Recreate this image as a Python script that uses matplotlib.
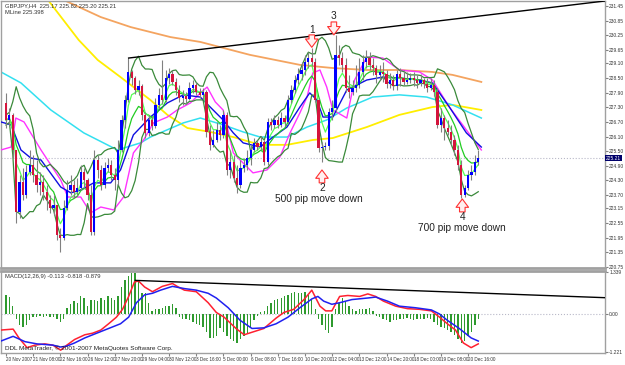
import matplotlib
matplotlib.use("Agg")
import matplotlib.pyplot as plt
import numpy as np
import pandas as pd

plt.rcParams['font.family'] = ['Liberation Sans', 'DejaVu Sans']
narrow = ['Liberation Sans Narrow', 'Liberation Sans', 'DejaVu Sans']

# ---- price data (H4 bars, GBPJPY) ----
first_open = 227.48
close = [226.78, 226.99, 225.55, 223.01, 224.24, 223.71, 224.65, 224.94, 224.53, 224.12,
         224.24, 223.83, 223.50, 223.17, 223.30, 222.07, 221.94, 223.17, 223.91, 224.12,
         223.83, 223.99, 224.65, 224.32, 223.71, 222.19, 225.14, 224.73, 224.12, 224.81,
         224.94, 224.53, 224.32, 225.55, 226.78, 227.60, 228.75, 228.50, 228.01, 228.17,
         226.99, 226.25, 226.78, 226.53, 227.40, 227.81, 227.60, 228.50, 228.67, 228.34,
         228.01, 227.68, 227.76, 227.64, 228.09, 228.22, 227.93, 227.81, 227.93, 226.29,
         225.76, 225.96, 226.37, 226.17, 226.99, 224.73, 225.06, 224.40, 224.12, 224.81,
         224.94, 225.22, 225.55, 225.84, 225.67, 225.88, 225.06, 226.70, 226.58, 226.78,
         226.58, 226.86, 226.70, 227.60, 228.01, 228.42, 228.67, 228.83, 229.16, 229.32,
         229.16, 227.60, 225.63, 225.67, 225.71, 227.11, 227.27, 229.45, 229.32, 229.04,
         228.09, 227.93, 228.09, 228.22, 228.75, 229.16, 229.32, 229.04, 228.91, 228.63,
         228.75, 228.67, 228.26, 228.42, 228.17, 228.67, 228.50, 228.34, 228.42, 228.50,
         228.42, 228.30, 228.42, 228.26, 228.09, 228.22, 227.93, 226.58, 226.86, 226.45,
         226.29, 225.96, 225.55, 224.94, 223.71, 223.99, 224.53, 224.65, 225.06, 225.21]
high = [227.89, 227.27, 227.07, 225.55, 224.53, 224.81, 224.94, 225.55, 225.35, 225.14,
        224.65, 224.53, 224.12, 223.71, 223.71, 223.30, 222.35, 223.50, 224.32, 224.53,
        224.32, 224.40, 224.94, 224.81, 224.40, 224.12, 225.55, 225.35, 224.94, 225.06,
        225.22, 225.14, 224.81, 225.96, 226.99, 227.81, 229.32, 228.83, 228.58, 228.42,
        228.26, 227.11, 226.99, 226.94, 227.68, 228.09, 229.24, 228.83, 228.91, 228.83,
        228.50, 228.22, 228.01, 227.93, 228.34, 228.42, 228.34, 228.09, 228.09, 228.01,
        226.58, 226.37, 226.70, 226.58, 227.19, 227.11, 225.55, 225.35, 224.94, 225.14,
        225.22, 225.55, 225.76, 226.04, 225.96, 226.12, 225.96, 226.86, 226.86, 226.99,
        226.94, 227.11, 226.99, 227.81, 228.22, 228.63, 228.91, 229.16, 229.45, 229.57,
        229.73, 229.32, 227.68, 225.88, 225.88, 227.27, 227.60, 230.27, 229.86, 229.57,
        229.32, 228.63, 228.42, 229.04, 229.32, 229.45, 229.65, 229.57, 229.32, 229.04,
        229.04, 229.16, 228.83, 228.71, 228.63, 228.83, 228.91, 228.83, 228.75, 228.71,
        228.75, 228.63, 228.67, 228.50, 228.50, 228.50, 228.42, 228.09, 227.27, 226.99,
        226.78, 226.58, 226.17, 225.76, 225.14, 224.12, 224.73, 224.94, 225.35, 225.55]
low = [226.45, 226.58, 225.22, 222.56, 222.76, 223.50, 223.58, 224.53, 224.24, 223.83,
       223.71, 223.50, 223.09, 222.97, 222.89, 221.86, 221.37, 221.86, 223.09, 223.71,
       223.58, 223.66, 223.91, 223.99, 223.50, 222.07, 222.07, 224.40, 223.91, 223.99,
       224.65, 224.32, 223.91, 224.12, 225.47, 226.45, 227.52, 228.22, 227.85, 227.81,
       226.78, 226.04, 226.12, 226.37, 226.45, 227.27, 227.44, 227.52, 228.26, 228.22,
       227.81, 227.52, 227.40, 227.44, 227.60, 227.89, 227.81, 227.68, 227.64, 226.08,
       225.55, 225.67, 225.88, 225.96, 226.04, 224.53, 224.40, 224.24, 223.79, 223.99,
       224.65, 224.73, 224.94, 225.47, 225.55, 225.55, 224.94, 224.94, 226.37, 226.45,
       226.45, 226.49, 226.53, 226.62, 227.48, 227.89, 228.26, 228.42, 228.63, 228.91,
       228.99, 227.52, 225.47, 225.06, 225.55, 225.55, 226.78, 227.11, 229.04, 228.75,
       227.93, 227.68, 227.81, 227.93, 228.09, 228.42, 228.91, 228.83, 228.63, 228.30,
       228.42, 228.34, 228.09, 228.09, 228.01, 228.01, 228.17, 228.22, 228.26, 228.30,
       228.17, 228.09, 228.17, 228.09, 227.93, 228.01, 227.76, 226.45, 226.29, 225.96,
       226.17, 225.76, 225.35, 224.73, 223.58, 223.62, 223.91, 224.32, 224.53, 224.94]

# slow moving averages (bar index, price)
yellow_x = [11.7, 21.4, 27.0, 33.7, 42.5, 47.5, 53.4, 60.1, 66.9, 74.8, 82.7, 90.3, 96.2, 106.2, 115.8, 125.5, 131.4, 139.9]
yellow_y = [231.82, 230.06, 229.24, 228.54, 227.60, 226.99, 226.45, 226.29, 226.08, 225.76, 225.76, 225.96, 226.04, 226.49, 226.99, 227.31, 227.40, 227.19]
orange_x = [14.7, 17.0, 27.9, 36.7, 48.4, 57.2, 71.8, 86.5, 96.2, 106.2, 115.8, 125.5, 131.4, 139.9]
orange_y = [231.90, 231.70, 231.00, 230.59, 230.18, 229.98, 229.45, 229.04, 228.91, 228.83, 228.83, 228.75, 228.63, 228.34]
cyan_x = [-1.5, 4.4, 13.2, 22.9, 32.8, 39.6, 42.5, 52.2, 57.2, 63.9, 69.8, 74.8, 82.7, 88.6, 94.4, 100.3, 107.9, 115.8, 123.8, 131.4, 139.9]
cyan_y = [228.75, 228.30, 227.19, 226.25, 225.55, 225.84, 226.08, 226.66, 226.86, 226.58, 226.29, 226.08, 226.08, 226.49, 226.78, 227.27, 227.72, 227.81, 227.72, 227.40, 226.86]
magenta_x = [-1.5, 1.5, 2.9, 5.3, 10.3, 16.1, 18.2, 22.0, 24.9, 27.9, 31.7, 34.6, 37.5, 40.5, 43.4, 47.5, 50.4, 54.3,
             57.2, 59.2, 61.6, 63.9, 65.1, 66.9, 68.9, 72.7, 76.8, 80.6, 83.6, 86.5, 88.6, 90.3, 92.4, 94.4, 96.2,
             100.3, 102.6, 106.2, 110.9, 115.8, 121.7, 125.5, 130.5, 135.5, 139.9]
magenta_y = [225.55, 225.67, 226.86, 226.70, 225.55, 224.32, 223.62, 223.62, 222.97, 223.21, 223.09, 223.62, 225.43,
             225.96, 226.66, 226.90, 227.19, 227.48, 227.89, 228.13, 227.52, 227.19, 226.49, 225.43, 225.14, 224.61,
             224.73, 225.26, 226.25, 227.07, 227.72, 228.71, 228.83, 228.13, 227.19, 226.86, 228.42, 229.36, 229.32,
             228.83, 228.75, 228.42, 227.31, 226.37, 225.55]
blue_x = [-1.5, 1.5, 4.4, 7.3, 10.3, 16.1, 19.1, 22.0, 25.8, 30.8, 33.7, 35.8, 37.5, 42.5, 47.5, 52.2, 57.2, 60.1, 63.9,
          66.9, 69.8, 74.8, 78.6, 82.7, 86.5, 89.4, 91.5, 93.3, 96.2, 100.3, 106.2, 110.9, 115.8, 121.7, 125.5, 130.5,
          135.5, 139.9]
blue_y = [226.70, 226.58, 225.55, 225.22, 225.14, 224.03, 223.79, 223.91, 224.20, 224.20, 224.73, 225.55, 226.17, 226.90,
          227.48, 227.81, 227.72, 227.31, 226.78, 226.25, 225.84, 225.67, 226.08, 226.49, 227.31, 227.89, 227.60, 226.90,
          226.90, 228.01, 228.42, 228.54, 228.50, 228.42, 228.30, 227.31, 226.25, 225.67]

# user trendlines (bar index, value)
trend_x = [36.1, 176.3]
trend_y = [229.32, 231.66]
macd_trend_x = [38.1, 176.3]
macd_trend_y = [1.07, 0.52]

# ---- MACD panel ----
macd_hist = [0.61, 0.55, 0.25, -0.15, -0.36, -0.41, -0.36, -0.20, -0.10, -0.08,
             -0.05, -0.08, -0.05, -0.10, -0.08, -0.15, -0.25, -0.15, 0.20, 0.31,
             0.41, 0.36, 0.56, 0.51, 0.25, 0.46, 0.46, 0.41, 0.51, 0.46,
             0.56, 0.51, 0.46, 0.56, 0.86, 1.07, 1.22, 1.29, 1.29, 1.07,
             0.66, 0.66, 0.36, 0.10, 0.15, 0.15, 0.20, 0.25, 0.25, 0.31,
             0.20, -0.10, -0.15, -0.15, -0.20, -0.25, -0.31, -0.36, -0.41, -0.56,
             -0.76, -0.76, -0.71, -0.46, -0.56, -0.71, -0.81, -0.86, -0.92, -0.81,
             -0.71, -0.61, -0.41, -0.20, -0.05, 0.05, 0.10, 0.25, 0.36, 0.46,
             0.48, 0.51, 0.56, 0.61, 0.66, 0.69, 0.68, 0.66, 0.71, 0.61,
             0.46, 0.15, -0.15, -0.36, -0.51, -0.61, -0.41, 0.15, 0.36, 0.51,
             0.41, 0.25, 0.15, 0.10, 0.15, 0.15, 0.17, 0.20, 0.10, -0.05,
             -0.10, -0.15, -0.20, -0.25, -0.20, -0.20, -0.15, -0.15, -0.13, -0.15,
             -0.20, -0.15, -0.17, -0.15, -0.13, -0.15, -0.25, -0.36, -0.41, -0.46,
             -0.51, -0.56, -0.66, -0.81, -0.92, -0.86, -0.71, -0.56, -0.36, -0.15]
macd_red_x = [-1.5, 2.1, 3.8, 6.2, 8.5, 11.4, 13.8, 16.1, 17.9, 20.2, 23.2, 25.5, 27.9, 30.2, 32.5, 34.3, 36.1, 37.8,
              39.0, 40.8, 43.1, 46.0, 49.0, 50.7, 52.5, 56.0, 59.5, 61.9, 64.2, 67.7, 70.1, 72.4, 75.9, 79.5, 81.8,
              84.7, 87.7, 90.0, 92.4, 94.1, 95.9, 98.2, 100.6, 104.1, 106.5, 108.8, 111.1, 114.7, 118.2, 121.7,
              125.2, 127.6, 129.9, 132.3, 134.6, 136.9, 139.0]
macd_red_y = [-0.51, -0.48, -0.76, -1.07, -0.99, -0.95, -0.99, -1.15, -0.99, -0.81, -0.66, -0.61, -0.51, -0.31,
              -0.10, 0.15, 0.56, 1.02, 1.05, 0.86, 0.71, 0.88, 0.97, 0.86, 0.76, 0.71, 0.36, 0.05, -0.10, -0.46,
              -0.66, -0.58, -0.46, -0.13, 0.05, 0.15, 0.46, 0.76, 0.25, 0.10, 0.10, 0.56, 0.59, 0.56, 0.64, 0.56,
              0.41, 0.25, 0.17, 0.15, 0.10, -0.10, -0.31, -0.51, -0.92, -1.07, -0.95]
macd_blue_x = [-1.5, 2.1, 5.6, 9.1, 13.8, 16.1, 17.9, 20.2, 23.2, 26.7, 30.2, 33.7, 36.1, 38.4, 40.8, 43.1, 45.5, 49.0,
               52.5, 56.0, 59.5, 61.9, 65.4, 68.9, 72.4, 75.9, 79.5, 83.0, 86.5, 90.0, 91.8, 93.5, 95.9, 98.2,
               101.8, 106.5, 108.8, 112.3, 115.8, 120.5, 125.2, 127.6, 129.9, 133.4, 136.9, 139.0]
macd_blue_y = [-0.86, -0.71, -0.88, -0.95, -0.99, -1.05, -1.02, -0.92, -0.76, -0.61, -0.46, -0.31, -0.10, 0.36,
               0.61, 0.66, 0.76, 0.88, 0.81, 0.76, 0.66, 0.51, 0.20, -0.20, -0.46, -0.44, -0.31, -0.10, 0.20, 0.48,
               0.56, 0.41, 0.31, 0.36, 0.46, 0.51, 0.54, 0.41, 0.25, 0.20, 0.13, 0.00, -0.20, -0.46, -0.76, -0.86]

price_ticks = [231.45, 230.85, 230.25, 229.65, 229.10, 228.50, 227.90, 227.30, 226.70, 226.10,
               225.50, 224.90, 224.30, 223.70, 223.15, 222.55, 221.95, 221.35, 220.75]
date_labels = ["20 Nov 2007", "21 Nov 08:00", "22 Nov 16:00", "26 Nov 12:00", "27 Nov 20:00",
               "29 Nov 04:00", "30 Nov 12:00", "3 Dec 16:00", "5 Dec 00:00", "6 Dec 08:00",
               "7 Dec 16:00", "10 Dec 20:00", "12 Dec 04:00", "13 Dec 12:00", "14 Dec 20:00",
               "18 Dec 00:00", "19 Dec 08:00", "20 Dec 16:00"]

n = len(close)
idx = np.arange(n)
c = np.array(close)
o = np.array([first_open] + close[:-1])
h = np.array(high)
l = np.array(low)

fig = plt.figure(figsize=(6.25, 3.65), dpi=100)
ax = fig.add_axes([0.0016, 0.2658, 0.9664, 0.7315])
ax2 = fig.add_axes([0.0016, 0.0329, 0.9664, 0.2247])
xlim = (-1.47, 176.3)

# slow MAs
ax.plot(orange_x, orange_y, color='#F4A460', lw=1.3, zorder=2)
ax.plot(yellow_x, yellow_y, color='#FFEE00', lw=1.3, zorder=2)
ax.plot(cyan_x, cyan_y, color='#33E0F0', lw=1.1, zorder=2)
ax.plot(magenta_x, magenta_y, color='#FF33FF', lw=1.0, zorder=3)
ax.plot(blue_x, blue_y, color='#1010E0', lw=1.0, zorder=3)

# fast lines computed from the closes
s = pd.Series(c)
mid = s.rolling(8, min_periods=1).mean()
sd = s.rolling(8, min_periods=2).std().bfill()
ax.plot(idx, mid + 1.4 * sd, color='#3A8A3A', lw=0.9, zorder=3)
ax.plot(idx, mid - 1.4 * sd, color='#3A8A3A', lw=0.9, zorder=3)
ax.plot(idx, s.ewm(span=8, adjust=False).mean(), color='#22CC22', lw=0.9, zorder=3)
ax.plot(idx, s.ewm(span=4, adjust=False).mean(), color='#55FF55', lw=0.9, zorder=3)

# candles
up = c >= o
ax.vlines(idx, l, h, color='#808080', lw=0.8, zorder=4)
body_lo = np.minimum(o, c)
body_h = np.maximum(np.abs(c - o), 0.03)
ax.bar(idx[up], body_h[up], bottom=body_lo[up], width=0.65, color='#0000FF', zorder=5)
ax.bar(idx[~up], body_h[~up], bottom=body_lo[~up], width=0.65, color='#D4143C', zorder=5)

# current price line and trendline
ax.axhline(close[-1], color='#B8B8C8', ls=':', lw=0.8, zorder=1)
ax.plot(trend_x, trend_y, color='black', lw=1.0, zorder=6)

# annotations: hollow red arrows, numbers and notes
arrow_props = dict(arrowstyle='simple,head_width=0.9,head_length=0.6,tail_width=0.4',
                   fc='#FFF0F0', ec='#FF3030', lw=0.8, mutation_scale=10, shrinkA=0, shrinkB=0)
ax.annotate('', xy=(90, 229.76), xytext=(90, 230.27), arrowprops=arrow_props, zorder=7)
ax.annotate('', xy=(96.5, 230.27), xytext=(96.5, 230.80), arrowprops=arrow_props, zorder=7)
ax.annotate('', xy=(93, 224.73), xytext=(93, 224.20), arrowprops=arrow_props, zorder=7)
ax.annotate('', xy=(134.3, 223.54), xytext=(134.3, 223.01), arrowprops=arrow_props, zorder=7)
num_kw = dict(color='#222222', fontsize=7.3, ha='center', va='center', zorder=7)
ax.text(90, 230.47, '1', **num_kw)
ax.text(96.5, 231.04, '3', **num_kw)
ax.text(93, 224.00, '2', **num_kw)
ax.text(134.3, 222.80, '4', **num_kw)
ax.text(92.1, 223.55, '500 pip move down', **num_kw)
ax.text(134.3, 222.33, '700 pip move down', **num_kw)

ax.text(0.006, 0.993, 'GBPJPY,H4  225.17 225.82 225.20 225.21', transform=ax.transAxes,
        fontsize=4.2, va='top', color='#333333')
ax.text(0.006, 0.966, 'MLine 225.398', transform=ax.transAxes, fontsize=4.2, va='top', color='#333333')

ax.set_xlim(*xlim)
ax.set_ylim(220.71, 231.66)
ax.set_xticks([])
ax.yaxis.tick_right()
ax.set_yticks(price_ticks)
ax.set_yticklabels([f'{v:.2f}' for v in price_ticks], family=narrow)
ax.tick_params(axis='y', length=2, color='#808080', labelsize=3.5, pad=1, labelcolor='#333333')
ax.text(1.002, close[-1], f'{close[-1]:.2f}', transform=ax.get_yaxis_transform(), fontsize=3.5,
        family=narrow, color='white', va='center', ha='left', zorder=8,
        bbox=dict(boxstyle='square,pad=0.15', fc='#00006A', ec='none'))

# MACD panel
ax2.bar(idx, macd_hist, width=0.4, color='#2E9A2E', zorder=2)
ax2.plot(macd_red_x, macd_red_y, color='#FF2030', lw=1.1, zorder=3)
ax2.plot(macd_blue_x, macd_blue_y, color='#2020F0', lw=1.1, zorder=3)
ax2.axhline(0, color='#B8B8C8', ls=':', lw=0.8, zorder=1)
ax2.plot(macd_trend_x, macd_trend_y, color='black', lw=1.0, zorder=4)
ax2.text(0.006, 0.96, 'MACD(12,26,9) -0.113 -0.818 -0.879', transform=ax2.transAxes,
         fontsize=4.2, va='top', color='#333333')
ax2.text(0.006, 0.03, 'DDL MetaTrader, \u00a9 2001-2007 MetaQuotes Software Corp.', transform=ax2.transAxes,
         fontsize=4.6, va='bottom', color='#222222')
ax2.set_xlim(*xlim)
ax2.set_ylim(-1.24, 1.37)
ax2.yaxis.tick_right()
ax2.set_yticks([1.339, 0.0, -1.221])
ax2.set_yticklabels(['1.339', '0.00', '-1.221'], family=narrow)
ax2.tick_params(axis='y', length=2, color='#808080', labelsize=3.5, pad=1, labelcolor='#333333')
ax2.set_xticks(np.arange(0, n, 8))
ax2.set_xticklabels(date_labels, ha='left', family=narrow)
ax2.tick_params(axis='x', length=2, color='#808080', labelsize=3.3, pad=1, labelcolor='#333333')

for a in (ax, ax2):
    for sp in a.spines.values():
        sp.set_color('#A0A0A0')
        sp.set_linewidth(1.0)
ax.spines['bottom'].set_linewidth(2.0)
ax2.spines['top'].set_linewidth(2.0)

fig.savefig('out.png', dpi=100)
